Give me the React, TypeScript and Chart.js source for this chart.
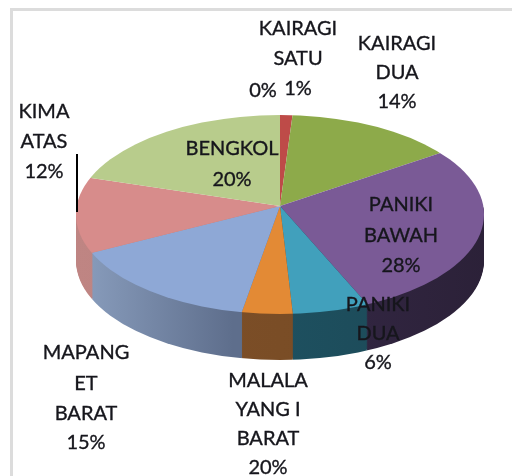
import React, { useEffect, useRef } from "react";
import { Chart, registerables } from "chart.js";

Chart.register(...registerables);

const categories = ["", "KAIRAGI SATU", "KAIRAGI DUA", "PANIKI BAWAH", "PANIKI DUA", "MALALAYANG I BARAT", "MAPANGET BARAT", "KIMA ATAS", "BENGKOL"];
const values = [0, 1, 14, 28, 6, 4, 15, 12, 20];
const sliceColors = ["#C0504D", "#BE4B48", "#8DAA4A", "#7A5A96", "#41A0BC", "#E38A35", "#8EA8D6", "#D78C8B", "#B8CC8C"];
const sideLeft = ["#8a3a38", "#8a3a38", "#6f8638", "#3f2f55", "#1f5a6c", "#80502a", "#8ea2c2", "#c08684", "#a0b278"];
const sideRight = ["#8a3a38", "#8a3a38", "#6f8638", "#2a2036", "#1c4653", "#744a22", "#5e6e8c", "#b07674", "#a0b278"];

const labelLines = [
  ["0%"],
  ["KAIRAGI", "SATU", "1%"],
  ["KAIRAGI", "DUA", "14%"],
  ["PANIKI", "BAWAH", "28%"],
  ["PANIKI", "DUA", "6%"],
  ["MALALA", "YANG I", "BARAT", "20%"],
  ["MAPANG", "ET", "BARAT", "15%"],
  ["KIMA", "ATAS", "12%"],
  ["BENGKOL", "20%"],
];
const labelCenters = [
  [263, [91]],
  [298, [29, 59, 89]],
  [397, [44, 73, 102]],
  [401, [205, 236, 266]],
  [378, [305, 334, 363]],
  [268, [381, 410, 439, 468]],
  [86, [353, 384, 414, 443]],
  [44, [112, 142, 172]],
  [232, [149, 180]],
] as [number, number[]][];

const APEX_X = 280;
const APEX_Y = 206;
const RIM_Y = 214.5;
const RIM_RX = 204;
const RIM_RY = 99.5;
const RADIUS = 204;
const GROW = 1.15;
const TOP_SCALE = 93 / 204;
const BOTTOM_SCALE = 108 / 204;
const DEPTH = 46;

function squash(ctx: CanvasRenderingContext2D, chart: any, scale: number, dy: number) {
  const el = chart.getDatasetMeta(0).data[0];
  ctx.translate(APEX_X, APEX_Y + dy);
  ctx.scale(GROW, scale * GROW);
  ctx.translate(-el.x, -el.y);
}

function clipY(ctx: CanvasRenderingContext2D, y0: number, y1: number) {
  ctx.beginPath();
  ctx.rect(0, y0, 512, y1 - y0);
  ctx.clip();
}

function clipRim(ctx: CanvasRenderingContext2D, dy: number) {
  ctx.beginPath();
  ctx.ellipse(APEX_X, RIM_Y + dy, RIM_RX, RIM_RY, 0, 0, Math.PI * 2);
  ctx.clip();
}

const pie3d = {
  id: "pie3d",
  beforeDraw(chart: any) {
    const ctx: CanvasRenderingContext2D = chart.ctx;
    ctx.save();
    ctx.fillStyle = "#ffffff";
    ctx.fillRect(0, 0, 512, 476);
    ctx.fillStyle = "#dcdcdc";
    ctx.fillRect(10, 8, 502, 3);
    ctx.fillRect(10, 8, 3, 468);
    ctx.restore();
  },
  beforeDatasetsDraw(chart: any) {
    const ctx: CanvasRenderingContext2D = chart.ctx;
    const arcs: any[] = chart.getDatasetMeta(0).data;
    for (let dy = DEPTH; dy >= 1; dy--) {
      ctx.save();
      clipRim(ctx, dy);
      clipY(ctx, APEX_Y + dy, 476);
      squash(ctx, chart, BOTTOM_SCALE, dy);
      arcs.forEach((arc, i) => {
        const g = ctx.createLinearGradient(APEX_X - RADIUS, 0, APEX_X + RADIUS, 0);
        if (i === 6) {
          g.addColorStop(0, "#93a8c8");
          g.addColorStop(0.4, "#5e6e8c");
          g.addColorStop(1, "#5e6e8c");
        } else {
          g.addColorStop(0, sideLeft[i]);
          g.addColorStop(1, sideRight[i]);
        }
        const saved = arc.options;
        arc.options = { ...saved, backgroundColor: g };
        arc.draw(ctx);
        arc.options = saved;
      });
      ctx.restore();
    }
    ctx.save();
    clipRim(ctx, 0);
    clipY(ctx, 0, APEX_Y);
    squash(ctx, chart, TOP_SCALE, 0);
  },
  afterDatasetsDraw(chart: any) {
    const ctx: CanvasRenderingContext2D = chart.ctx;
    ctx.restore();
    ctx.save();
    clipRim(ctx, 0);
    clipY(ctx, APEX_Y, 476);
    squash(ctx, chart, BOTTOM_SCALE, 0);
    chart.getDatasetMeta(0).data.forEach((arc: any) => arc.draw(ctx));
    ctx.restore();

    ctx.save();
    ctx.fillStyle = "#000000";
    ctx.fillRect(76, 154, 2, 58);
    ctx.font = "20px Lato, 'Open Sans', sans-serif";
    ctx.fillStyle = "#16161c";
    ctx.strokeStyle = "#16161c";
    ctx.lineWidth = 0.35;
    ctx.textAlign = "center";
    ctx.textBaseline = "middle";
    labelLines.forEach((lines, i) => {
      const [cx, ys] = labelCenters[i];
      lines.forEach((line, j) => {
        ctx.fillText(line, cx, ys[j]);
        ctx.strokeText(line, cx, ys[j]);
      });
    });
    ctx.restore();
  },
};

export default function App() {
  const ref = useRef<HTMLCanvasElement>(null);
  useEffect(() => {
    document.body.style.margin = "0";
    const chart = new Chart(ref.current!, {
      type: "pie",
      data: {
        labels: categories,
        datasets: [{ data: values, backgroundColor: sliceColors, borderWidth: 0 }],
      },
      options: {
        responsive: false,
        animation: false,
        layout: { padding: { left: 76, right: 28, top: 34, bottom: 34 } },
        plugins: { legend: { display: false }, tooltip: { enabled: false } },
      },
      plugins: [pie3d],
    });
    return () => chart.destroy();
  }, []);
  return <canvas ref={ref} width={512} height={476} style={{ display: "block" }} />;
}
